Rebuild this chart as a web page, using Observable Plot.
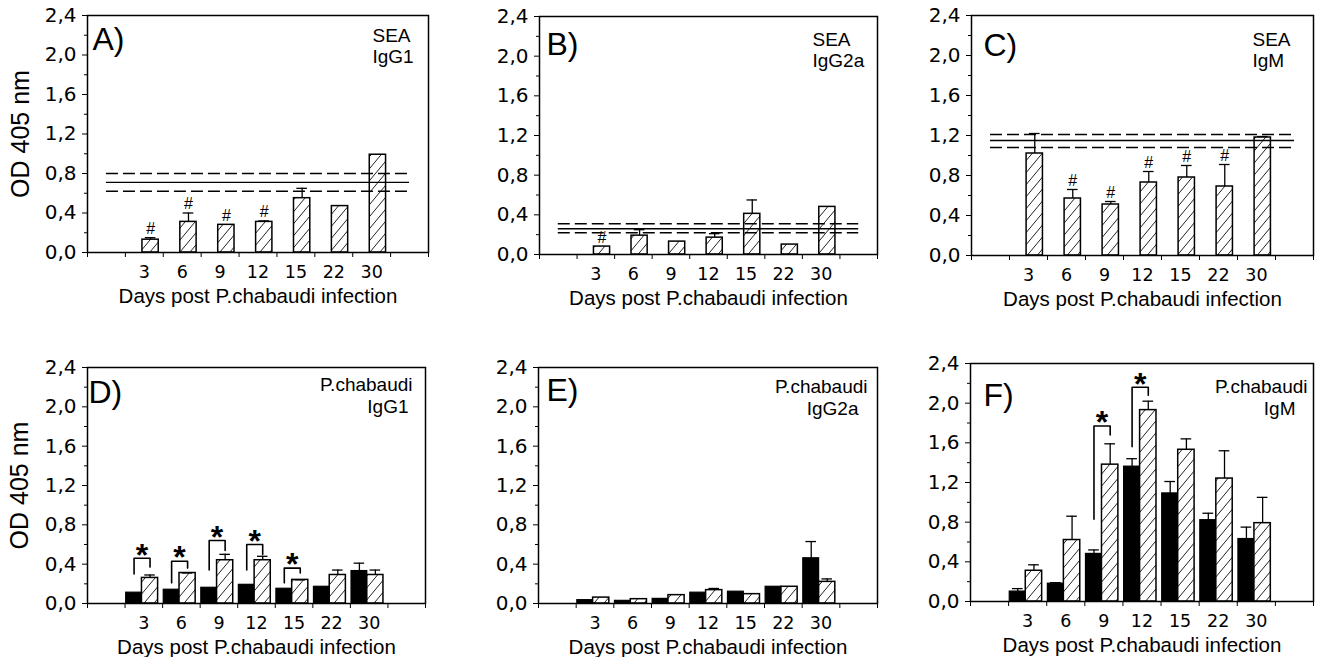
<!DOCTYPE html>
<html><head><meta charset="utf-8">
<script src="https://cdn.jsdelivr.net/npm/d3@7"></script>
<script src="https://cdn.jsdelivr.net/npm/@observablehq/plot@0.6"></script>
<style>
body{margin:0;background:#fff;}
#wrap{position:relative;width:1321px;height:657px;overflow:hidden;background:#fff;}
.panel{position:absolute;}
.panel svg{overflow:visible;}
</style></head><body>
<svg width="0" height="0" style="position:absolute"><defs>
<pattern id="hatch" patternUnits="userSpaceOnUse" width="10" height="12">
<rect width="10" height="12" fill="#fff"/>
<path d="M0,12L10,0M-2,2.4L2,-2.4M8,14.4L12,9.6" stroke="#222" stroke-width="1"/>
</pattern></defs></svg>
<div id="wrap"></div>
<script>
// ---------- data ----------
const days = ["3","6","9","12","15","22","30"];
const yTicks = [0, 0.4, 0.8, 1.2, 1.6, 2.0, 2.4];
const yTickLabels = ["0,0","0,4","0,8","1,2","1,6","2,0","2,4"];
const yMinorTicks = [0.2, 0.6, 1.0, 1.4, 1.8, 2.2];
const xLabel = "Days post P.chabaudi infection";
const yLabel = "OD 405 nm";

// A) SEA IgG1
const seaIgG1 = [0.13, 0.31, 0.28, 0.31, 0.55, 0.47, 0.99];
const seaIgG1Err = [0.15, 0.40, null, 0.32, 0.65, null, null];
const seaIgG1Ctrl = [0.62, 0.71, 0.80];   // mean - SD, mean, mean + SD
const seaIgG1Sig = [true, true, true, true, false, false, false];

// B) SEA IgG2a
const seaIgG2a = [0.08, 0.19, 0.13, 0.17, 0.41, 0.10, 0.48];
const seaIgG2aErr = [null, 0.25, null, 0.21, 0.55, null, null];
const seaIgG2aCtrl = [0.22, 0.26, 0.31];
const seaIgG2aSig = [true, false, false, false, false, false, false];

// C) SEA IgM
const seaIgM = [1.02, 0.57, 0.51, 0.73, 0.78, 0.69, 1.18];
const seaIgMErr = [1.22, 0.66, 0.54, 0.84, 0.90, 0.91, 1.19];
const seaIgMCtrl = [1.08, 1.15, 1.21];
const seaIgMSig = [false, true, true, true, true, true, false];

// D) P.chabaudi IgG1 (black = P.chabaudi only, hatched = co-infected)
const pcIgG1Black = [0.11, 0.14, 0.16, 0.19, 0.15, 0.17, 0.33];
const pcIgG1BlackErr = [null, null, null, null, null, null, 0.41];
const pcIgG1Hatch = [0.26, 0.31, 0.44, 0.44, 0.24, 0.29, 0.29];
const pcIgG1HatchErr = [0.29, 0.31, 0.50, 0.48, 0.24, 0.34, 0.34];
const pcIgG1BracketDays = ["3","6","9","12","15"];
const pcIgG1BracketTop = [0.46, 0.43, 0.64, 0.60, 0.36];
const pcIgG1BracketLeft = [0.30, 0.21, 0.34, 0.34, 0.21];
const pcIgG1BracketRight = [0.37, 0.36, 0.54, 0.50, 0.31];

// E) P.chabaudi IgG2a
const pcIgG2aBlack = [0.034, 0.027, 0.047, 0.11, 0.12, 0.17, 0.46];
const pcIgG2aBlackErr = [null, null, null, null, null, null, 0.63];
const pcIgG2aHatch = [0.06, 0.044, 0.085, 0.136, 0.095, 0.17, 0.22];
const pcIgG2aHatchErr = [null, null, null, 0.153, null, null, 0.25];

// F) P.chabaudi IgM
const pcIgMBlack = [0.10, 0.18, 0.48, 1.36, 1.09, 0.82, 0.63];
const pcIgMBlackErr = [0.13, 0.19, 0.52, 1.44, 1.21, 0.89, 0.75];
const pcIgMHatch = [0.31, 0.62, 1.38, 1.93, 1.53, 1.24, 0.79];
const pcIgMHatchErr = [0.37, 0.86, 1.59, 2.02, 1.64, 1.52, 1.05];
const pcIgMBracketDays = ["9","12"];
const pcIgMBracketTop = [1.77, 2.16];
const pcIgMBracketLeft = [0.83, 1.56];
const pcIgMBracketRight = [1.68, 2.08];

// ---------- drawing ----------
const FONT = '"Liberation Sans", Arial, Helvetica, sans-serif';
const TICKFONT = '"DejaVu Sans", "Liberation Sans", sans-serif';
const wrap = document.getElementById("wrap");

function panel(cfg) {
  const rows = days.map((d, i) => ({
    i, day: d,
    black: cfg.black ? cfg.black[i] : null,
    blackErr: cfg.blackErr ? cfg.blackErr[i] : null,
    hatch: cfg.hatch[i],
    hatchErr: cfg.hatchErr[i],
    sig: cfg.sig ? cfg.sig[i] : false
  }));
  const bc = d => d.i + 1.24;   // black bar centre (band units)
  const hc = d => d.i + 1.665;  // hatched bar centre
  const marks = [];
  if (cfg.black) {
    marks.push(Plot.rect(rows, {x1: d => d.i + 1.03, x2: d => d.i + 1.45, y1: 0, y2: "black",
      fill: "black", stroke: "black", strokeWidth: 1.2}));
  }
  marks.push(Plot.rect(rows, {x1: d => d.i + 1.45, x2: d => d.i + 1.88, y1: 0, y2: "hatch",
    fill: "url(#hatch)", stroke: "black", strokeWidth: 1.5}));
  // error bars
  const be = rows.filter(d => d.blackErr != null);
  const he = rows.filter(d => d.hatchErr != null);
  marks.push(
    Plot.ruleX(be, {x: bc, y1: "black", y2: "blackErr", stroke: "black", strokeWidth: 1.3}),
    Plot.ruleY(be, {y: "blackErr", x1: d => bc(d) - 0.14, x2: d => bc(d) + 0.14, stroke: "black", strokeWidth: 1.3}),
    Plot.ruleX(he, {x: hc, y1: "hatch", y2: "hatchErr", stroke: "black", strokeWidth: 1.3}),
    Plot.ruleY(he, {y: "hatchErr", x1: d => hc(d) - 0.14, x2: d => hc(d) + 0.14, stroke: "black", strokeWidth: 1.3})
  );
  // control reference lines
  if (cfg.ctrl) {
    marks.push(
      Plot.ruleY([cfg.ctrl[0], cfg.ctrl[2]], {y: d => d, x1: 0.5, x2: 8.5, stroke: "black", strokeWidth: 1.4, strokeDasharray: "12,5"}),
      Plot.ruleY([cfg.ctrl[1]], {y: d => d, x1: 0.5, x2: 8.5, stroke: "black", strokeWidth: 1.4})
    );
  }
  // # marks
  marks.push(Plot.text(rows.filter(d => d.sig), {x: hc, y: d => d.hatchErr ?? d.hatch, text: () => "#",
    lineAnchor: "bottom", dy: -4, fontSize: 16, fontFamily: FONT}));
  // brackets with stars
  if (cfg.brDays) {
    const br = cfg.brDays.map((d, k) => ({i: days.indexOf(d), top: cfg.brTop[k], lb: cfg.brLeft[k], rb: cfg.brRight[k]}));
    const pts = br.flatMap((b, k) => [
      {k, x: b.i + 1.24, y: b.lb}, {k, x: b.i + 1.24, y: b.top},
      {k, x: b.i + 1.665, y: b.top}, {k, x: b.i + 1.665, y: b.rb}]);
    marks.push(
      Plot.line(pts, {x: "x", y: "y", z: "k", stroke: "black", strokeWidth: 1.6, curve: "linear"}),
      Plot.text(br, {x: b => b.i + 1.45, y: "top", text: () => "*", fontSize: 32, fontWeight: "bold",
        lineAnchor: "middle", dy: -3, fontFamily: FONT})
    );
  }
  // axes (tick marks) and tick labels as text marks
  marks.push(
    Plot.axisY({ticks: yTicks, tickFormat: () => "", tickSize: 5, label: null}),
    Plot.axisY({ticks: yMinorTicks, tickFormat: () => "", tickSize: 3, label: null}),
    Plot.axisX({ticks: d3.range(0, 10), tickFormat: () => "", tickSize: 5, label: null}),
    Plot.text(yTicks, {x: 0, y: d => d, text: (d, i) => yTickLabels[i], textAnchor: "end", lineAnchor: "middle",
      dx: -11, fontSize: 20, fontFamily: TICKFONT}),
    Plot.text(days, {x: (d, i) => i + 1.5, y: 0, text: d => d, textAnchor: "middle", lineAnchor: "top",
      dy: 13, fontSize: 17.5, fontFamily: TICKFONT}),
    Plot.frame({stroke: "black", strokeWidth: 1.5}),
    Plot.text([cfg.letter], {text: d => d, frameAnchor: "top-left", textAnchor: "start", lineAnchor: "top",
      dx: cfg.letterDx, dy: cfg.letterDy, fontSize: 32, fontFamily: FONT}),
    Plot.text([cfg.line1], {text: d => d, frameAnchor: "top-right", textAnchor: cfg.tAnchor, lineAnchor: "top",
      dx: cfg.l1dx, dy: cfg.l1dy, fontSize: 19, fontFamily: FONT}),
    Plot.text([cfg.line2], {text: d => d, frameAnchor: "top-right", textAnchor: cfg.tAnchor, lineAnchor: "top",
      dx: cfg.l2dx, dy: cfg.l1dy + cfg.lineGap, fontSize: 19, fontFamily: FONT}),
    Plot.text([xLabel], {text: d => d, frameAnchor: "bottom", lineAnchor: "top", dy: 36, fontSize: 20.5, fontFamily: FONT})
  );
  if (cfg.ylabel) {
    marks.push(Plot.text([yLabel], {text: d => d, frameAnchor: "left", rotate: -90, textAnchor: "middle",
      lineAnchor: "middle", dx: cfg.ylabelDx, fontSize: 25, fontFamily: FONT}));
  }
  const svg = Plot.plot({
    width: cfg.width, height: cfg.height,
    marginLeft: cfg.m[0], marginRight: cfg.m[1], marginTop: cfg.m[2], marginBottom: cfg.m[3],
    x: {type: "linear", domain: [0, 9], label: null},
    y: {domain: [0, 2.4], label: null},
    style: {fontFamily: FONT, color: "black", background: "transparent", overflow: "visible"},
    marks
  });
  const div = document.createElement("div");
  div.className = "panel";
  div.style.left = cfg.left + "px";
  div.style.top = cfg.top + "px";
  div.appendChild(svg);
  wrap.appendChild(div);
}

panel({left: 0, top: 0, width: 440, height: 320, m: [87, 12, 15, 68],
  hatch: seaIgG1, hatchErr: seaIgG1Err, ctrl: seaIgG1Ctrl, sig: seaIgG1Sig,
  letter: "A)", letterDx: 5, letterDy: 12, line1: "SEA", line2: "IgG1", tAnchor: "start",
  l1dx: -56, l2dx: -56, l1dy: 13, lineGap: 21, ylabel: true, ylabelDx: -67});
panel({left: 440, top: 0, width: 440, height: 320, m: [99, 3, 16, 66],
  hatch: seaIgG2a, hatchErr: seaIgG2aErr, ctrl: seaIgG2aCtrl, sig: seaIgG2aSig,
  letter: "B)", letterDx: 7, letterDy: 16, line1: "SEA", line2: "IgG2a", tAnchor: "start",
  l1dx: -65, l2dx: -65, l1dy: 16, lineGap: 21});
panel({left: 880, top: 0, width: 441, height: 320, m: [91, 8, 15, 65],
  hatch: seaIgM, hatchErr: seaIgMErr, ctrl: seaIgMCtrl, sig: seaIgMSig,
  letter: "C)", letterDx: 12, letterDy: 18, line1: "SEA", line2: "IgM", tAnchor: "start",
  l1dx: -61, l2dx: -61, l1dy: 17, lineGap: 21});
panel({left: 0, top: 320, width: 440, height: 337, m: [87, 15, 47, 54],
  black: pcIgG1Black, blackErr: pcIgG1BlackErr, hatch: pcIgG1Hatch, hatchErr: pcIgG1HatchErr,
  brDays: pcIgG1BracketDays, brTop: pcIgG1BracketTop, brLeft: pcIgG1BracketLeft, brRight: pcIgG1BracketRight,
  letter: "D)", letterDx: 1, letterDy: 13, line1: "P.chabaudi", line2: "IgG1", tAnchor: "end",
  l1dx: -13, l2dx: -17, l1dy: 10, lineGap: 22, ylabel: true, ylabelDx: -68});
panel({left: 440, top: 320, width: 440, height: 337, m: [98, 3, 47, 54],
  black: pcIgG2aBlack, blackErr: pcIgG2aBlackErr, hatch: pcIgG2aHatch, hatchErr: pcIgG2aHatchErr,
  letter: "E)", letterDx: 8, letterDy: 11, line1: "P.chabaudi", line2: "IgG2a", tAnchor: "end",
  l1dx: -10, l2dx: -19, l1dy: 12, lineGap: 22});
panel({left: 880, top: 320, width: 441, height: 337, m: [90, 8, 43, 56],
  black: pcIgMBlack, blackErr: pcIgMBlackErr, hatch: pcIgMHatch, hatchErr: pcIgMHatchErr,
  brDays: pcIgMBracketDays, brTop: pcIgMBracketTop, brLeft: pcIgMBracketLeft, brRight: pcIgMBracketRight,
  letter: "F)", letterDx: 13, letterDy: 20, line1: "P.chabaudi", line2: "IgM", tAnchor: "end",
  l1dx: -6, l2dx: -18, l1dy: 16, lineGap: 22});
</script>
</body></html>
